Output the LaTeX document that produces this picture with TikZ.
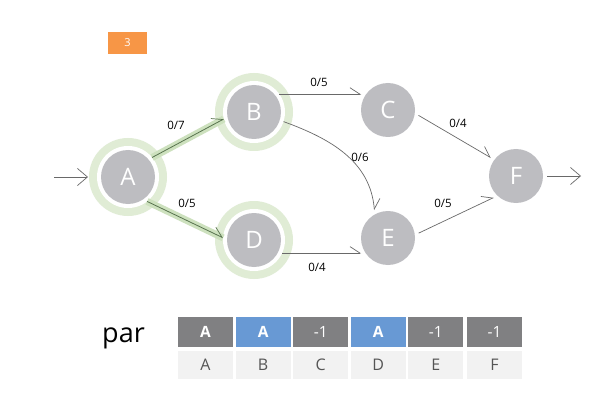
\documentclass[tikz,border=0pt]{standalone}
\usepackage{fontspec}
\setmainfont{Open Sans}
\usetikzlibrary{arrows.meta}
\definecolor{nodegray}{RGB}{189,189,193}
\definecolor{ringgreen}{RGB}{224,236,213}
\definecolor{bandgreen}{RGB}{205,225,190}
\definecolor{darkgreen}{RGB}{88,115,78}
\definecolor{edgegray}{RGB}{105,105,105}
\definecolor{celldark}{RGB}{128,128,130}
\definecolor{cellblue}{RGB}{104,153,212}
\definecolor{celllight}{RGB}{242,242,242}
\definecolor{celltext}{RGB}{85,85,85}
\definecolor{boxorange}{RGB}{247,150,70}
\tikzset{
  vert/.style={circle,fill=nodegray,minimum size=54pt,inner sep=0pt,outer sep=4pt,
    text=white,font=\fontsize{24}{24}\selectfont},
  conn/.style={draw=edgegray,line width=0.7pt,-{Straight Barb[left,length=10pt,width=13pt,line width=0.7pt]}},
  hconn/.style={draw=darkgreen,line width=0.8pt,-{Straight Barb[left,length=10pt,width=13pt,line width=0.7pt]}},
  band/.style={draw=bandgreen,line width=7pt},
  ioconn/.style={draw=edgegray,line width=0.7pt,-{Straight Barb[length=10pt,width=17pt,line width=0.7pt]}},
  lbl/.style={font=\fontsize{11.5}{11.5}\selectfont,text=black},
  topcell/.style={minimum width=55pt,minimum height=30pt,inner sep=0pt,text=white,font=\fontsize{15.5}{15.5}\selectfont},
  botcell/.style={fill=celllight,minimum width=55pt,minimum height=28pt,inner sep=0pt,text=celltext,font=\fontsize{16}{16}\selectfont},
}
\begin{document}
\begin{tikzpicture}[x=1pt,y=1pt]
\useasboundingbox[fill=white] (0,0) rectangle (606,408);
% step box
\node[fill=boxorange,minimum width=39pt,minimum height=22pt,inner sep=0pt,text=white,font=\fontsize{11}{11}\selectfont] (step3) at (127.5,365) {3};
% rings
\foreach \p in {(128,231),(254,296),(254,168)}{
  \fill[ringgreen] \p circle (39);
  \fill[white] \p circle (31);
}
% vertices
\node[vert] (A) at (128,231) {A};
\node[vert] (B) at (254,296) {B};
\node[vert] (C) at (388,298) {C};
\node[vert] (D) at (254,168) {D};
\node[vert] (E) at (388,170) {E};
\node[vert] (F) at (516,232) {F};
\coordinate (in) at (54,231);
\coordinate (out) at (581,232);
% highlighted edges
\draw[band] (A.39) -- (B.193);
\draw[band] (A.-52) -- (D.176);
\draw[hconn] (A.39) -- (B.193);
\draw[hconn] (A.-52) -- (D.176);
% other edges
\draw[conn] (B.35) -- (B.35 -| C.150);
\draw[conn] (D.-25) -- (D.-25 -| E.210);
\draw[conn] (B.-18) to[out=-20,in=95] (E.116);
\draw[conn] (C.-10) -- (F.144);
\draw[conn] (E.9) -- (F.224);
\draw[ioconn,shorten >=9pt] (in) -- (A);
\draw[ioconn] (F) -- (out);
% labels
\node[lbl] (l1) at (176,283) {0/7};
\node[lbl] (l2) at (187,205) {0/5};
\node[lbl] (l3) at (319,326) {0/5};
\node[lbl] (l4) at (317,141) {0/4};
\node[lbl] (l5) at (360,251) {0/6};
\node[lbl] (l6) at (458,285) {0/4};
\node[lbl] (l7) at (443,205) {0/5};
% par table
\node[anchor=base west,inner sep=0pt,font=\fontsize{27}{27}\selectfont] (par) at (102,66) {par};
\node[topcell,fill=celldark] (t1) at (205.5,76) {\bfseries A};
\node[topcell,fill=cellblue] (t2) at (263.1,76) {\bfseries A};
\node[topcell,fill=celldark] (t3) at (320.7,76) {-1};
\node[topcell,fill=cellblue] (t4) at (378.3,76) {\bfseries A};
\node[topcell,fill=celldark] (t5) at (435.9,76) {-1};
\node[topcell,fill=celldark] (t6) at (494.5,76) {-1};
\node[botcell] (b1) at (205.5,43) {A};
\node[botcell] (b2) at (263.1,43) {B};
\node[botcell] (b3) at (320.7,43) {C};
\node[botcell] (b4) at (378.3,43) {D};
\node[botcell] (b5) at (435.9,43) {E};
\node[botcell] (b6) at (494.5,43) {F};
\end{tikzpicture}
\end{document}
